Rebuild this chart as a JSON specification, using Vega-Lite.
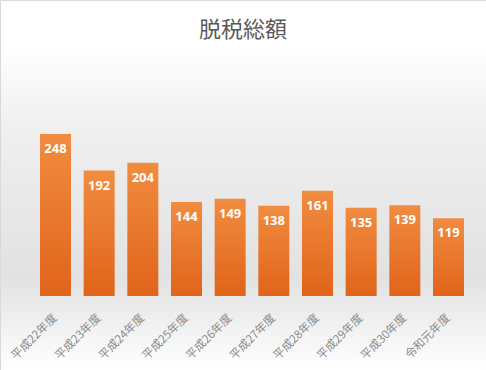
{
  "$schema": "https://vega.github.io/schema/vega-lite/v6.json",
  "width": 486,
  "height": 370,
  "autosize": "none",
  "padding": 0,
  "background": "#ffffff",
  "title": {
    "text": "脱税総額",
    "orient": "top",
    "anchor": "middle",
    "offset": -42,
    "font": "Noto Sans CJK JP",
    "fontSize": 22,
    "fontWeight": "normal",
    "color": "#595959"
  },
  "config": {
    "view": {
      "stroke": "#d9d9d9",
      "strokeWidth": 1,
      "fill": {
        "gradient": "linear",
        "x1": 0, "y1": 0, "x2": 0, "y2": 1,
        "stops": [
          {"offset": 0, "color": "#ffffff"},
          {"offset": 0.12, "color": "#ffffff"},
          {"offset": 0.35, "color": "#efefef"},
          {"offset": 0.75, "color": "#e2e2e2"},
          {"offset": 1, "color": "#ffffff"}
        ]
      }
    }
  },
  "data": {
    "values": [
      {"year": "平成22年度", "value": 248},
      {"year": "平成23年度", "value": 192},
      {"year": "平成24年度", "value": 204},
      {"year": "平成25年度", "value": 144},
      {"year": "平成26年度", "value": 149},
      {"year": "平成27年度", "value": 138},
      {"year": "平成28年度", "value": 161},
      {"year": "平成29年度", "value": 135},
      {"year": "平成30年度", "value": 139},
      {"year": "令和元年度", "value": 119}
    ]
  },
  "encoding": {
    "x": {
      "field": "year",
      "type": "nominal",
      "sort": null,
      "scale": {"paddingInner": 0.29, "paddingOuter": 0.71, "align": 0.645},
      "axis": {
        "title": null,
        "domain": false,
        "ticks": false,
        "grid": false,
        "offset": -74,
        "labelAngle": -45,
        "labelAlign": "right",
        "labelBaseline": "middle",
        "labelPadding": 20,
        "labelFont": "Noto Sans CJK JP",
        "labelFontSize": 11.5,
        "labelColor": "#8c8c8c"
      }
    },
    "y": {
      "field": "value",
      "type": "quantitative",
      "scale": {"domain": [-113.3, 453.1], "zero": false, "nice": false},
      "axis": null
    }
  },
  "layer": [
    {
      "mark": {
        "type": "bar",
        "color": {
          "gradient": "linear",
          "x1": 0, "y1": 0, "x2": 0, "y2": 1,
          "stops": [
            {"offset": 0, "color": "#f18c40"},
            {"offset": 1, "color": "#e0641a"}
          ]
        }
      },
      "encoding": {"y2": {"datum": 0}}
    },
    {
      "mark": {
        "type": "text",
        "dy": 15,
        "baseline": "middle",
        "color": "#ffffff",
        "font": "Open Sans",
        "fontWeight": "bold",
        "fontSize": 13
      },
      "encoding": {"text": {"field": "value", "type": "quantitative"}}
    }
  ]
}
